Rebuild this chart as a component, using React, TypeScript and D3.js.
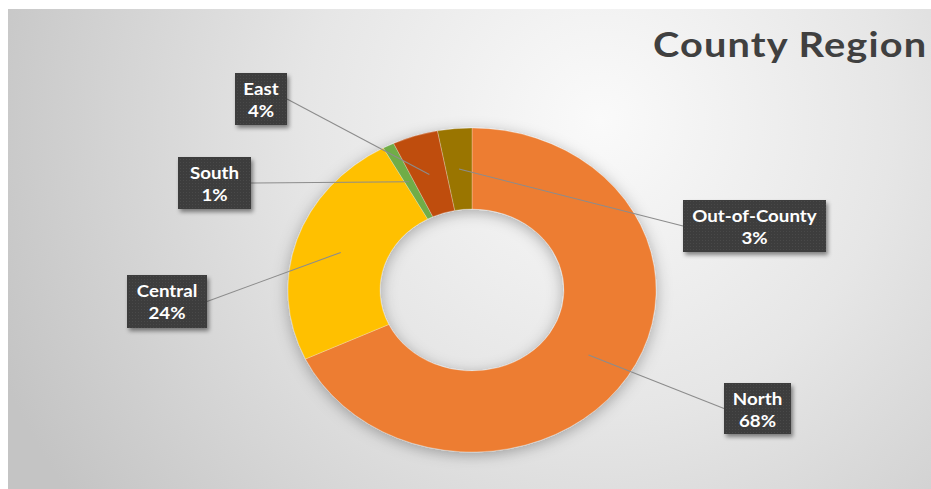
import React from "react";
import * as d3 from "d3";

const categories = ["North", "Central", "South", "East", "Out-of-County"];
const values = [68, 24, 1, 4, 3];
const colors = ["#ED7D31", "#FFC000", "#70AD47", "#BF4E10", "#9A7400"];
const title = "County Region";

// label box layout (page pixels)
const boxes = [
  { x: 724, y: 383, w: 67, h: 51, side: "left" },
  { x: 127, y: 275, w: 80, h: 53, side: "right" },
  { x: 178, y: 157, w: 73, h: 52, side: "right" },
  { x: 235, y: 73, w: 52, h: 52, side: "right" },
  { x: 683, y: 200, w: 143, h: 52, side: "left" },
];

const W = 931;
const H = 489;
const SX = 1.136;
const CX = 472;
const CY = 290;
const R = 162;
const RI = 81;
const FONT = "Lato, 'Open Sans', sans-serif";

export default function App() {
  const total = d3.sum(values);
  const pie = d3.pie<number>().sort(null).value((d) => d);
  const arcs = pie(values);
  const arc = d3.arc<d3.PieArcDatum<number>>().innerRadius(RI).outerRadius(R);

  return (
    <svg
      width={W}
      height={H}
      style={{ position: "absolute", left: 0, top: 0, background: "#fff" }}
    >
      <defs>
        <radialGradient id="bg" gradientUnits="userSpaceOnUse" cx={600} cy={120} r={650}>
          <stop offset="0" stopColor="#fafafa" />
          <stop offset="0.45" stopColor="#e6e6e6" />
          <stop offset="1" stopColor="#c4c4c4" />
        </radialGradient>
        <filter id="dshadow" x="-20%" y="-20%" width="140%" height="140%">
          <feDropShadow dx="0" dy="3" stdDeviation="7" floodColor="#000" floodOpacity="0.3" />
        </filter>
        <filter id="bshadow" x="-20%" y="-20%" width="150%" height="150%">
          <feDropShadow dx="2" dy="3" stdDeviation="2" floodColor="#000" floodOpacity="0.45" />
        </filter>
        <pattern id="tex" width="3" height="3" patternUnits="userSpaceOnUse">
          <rect width="3" height="3" fill="#3c3c3c" />
          <rect width="1" height="1" fill="#4a4a4a" />
        </pattern>
      </defs>
      <rect x={8} y={9} width={W - 8} height={H - 9} fill="url(#bg)" />

      <text
        transform={`translate(653,57) scale(${SX},1)`}
        fontFamily={FONT}
        fontWeight={700}
        fontSize={35}
        letterSpacing={1}
        fill="#404040"
      >
        {title}
      </text>

      <g transform={`translate(${CX},${CY}) scale(${SX},1)`} filter="url(#dshadow)">
        {arcs.map((a, i) => (
          <path key={i} d={arc(a) || ""} fill={colors[i]} stroke="#ffffff" strokeWidth={0.4} strokeOpacity={0.6} />
        ))}
      </g>

      {arcs.map((a, i) => {
        const [px, py] = arc.centroid(a);
        const b = boxes[i];
        const x1 = CX + px * SX;
        const y1 = CY + py;
        const x2 = b.side === "left" ? b.x : b.x + b.w;
        const y2 = b.y + b.h / 2;
        return (
          <line key={"l" + i} x1={x1} y1={y1} x2={x2} y2={y2} stroke="#8c8c8c" strokeWidth={1.1} />
        );
      })}

      {arcs.map((a, i) => {
        const b = boxes[i];
        const pct = Math.round((values[i] / total) * 100) + "%";
        const tx = b.x + b.w / 2;
        return (
          <g key={"b" + i}>
            <rect x={b.x} y={b.y} width={b.w} height={b.h} fill="url(#tex)" filter="url(#bshadow)" />
            <text
              transform={`translate(${tx},${b.y + 22}) scale(${SX},1)`}
              textAnchor="middle"
              fontFamily={FONT}
              fontWeight={700}
              fontSize={16.5}
              fill="#ffffff"
            >
              {categories[i]}
            </text>
            <text
              transform={`translate(${tx},${b.y + 44}) scale(${SX},1)`}
              textAnchor="middle"
              fontFamily={FONT}
              fontWeight={700}
              fontSize={16.5}
              fill="#ffffff"
            >
              {pct}
            </text>
          </g>
        );
      })}
    </svg>
  );
}
